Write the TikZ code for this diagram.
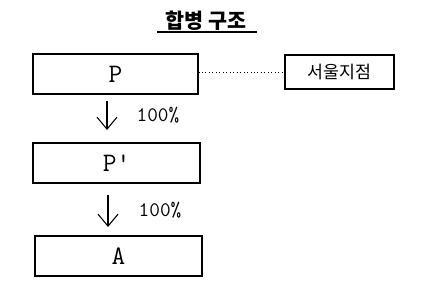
\documentclass[tikz,border=0pt]{standalone}
\usepackage{fontspec}
\newfontfamily\kr{Noto Sans CJK KR}
\usetikzlibrary{arrows.meta}
\begin{document}
\begin{tikzpicture}[x=0.75pt,y=-0.75pt,
  box/.style={draw,line width=0.8pt,inner sep=0pt},
  lbl/.style={font=\ttfamily\fontsize{20}{20}\selectfont},
  pct/.style={font=\ttfamily\fontsize{15.5}{15.5}\selectfont,anchor=west},
  arr/.style={line width=0.8pt,-{Straight Barb[length=9pt,width=15pt,line width=0.8pt]}}]
\useasboundingbox (0,0) rectangle (431,292);
\node[font=\kr\bfseries\fontsize{15.5}{15.5}\selectfont] (title) at (206,21) {합병 구조};
\draw[line width=0.9pt] (157,32) coordinate (u1) -- (257,32) coordinate (u2);
\node[box,minimum width=165*0.75pt,minimum height=40*0.75pt,lbl] (P) at (115.5,74) {P};
\node[box,minimum width=167*0.75pt,minimum height=40*0.75pt,lbl] (Pp) at (116.5,163) {P'};
\node[box,minimum width=167*0.75pt,minimum height=40*0.75pt,lbl] (A) at (118.5,256) {A};
\node[box,minimum width=109*0.75pt,minimum height=34*0.75pt,font=\kr\fontsize{13}{13}\selectfont] (S) at (339.5,72) {서울지점};
\draw[dotted,line width=0.6pt] (P.east |- S.west) -- (S.west);
\coordinate (a1s) at (107,101); \coordinate (a1e) at (107,130);
\coordinate (a2s) at (108,195); \coordinate (a2e) at (108,227);
\draw[arr] (a1s) -- (a1e);
\draw[arr] (a2s) -- (a2e);
\node[pct] (l1) at (132,115) {100\%};
\node[pct] (l2) at (134,210) {100\%};
\end{tikzpicture}
\end{document}
